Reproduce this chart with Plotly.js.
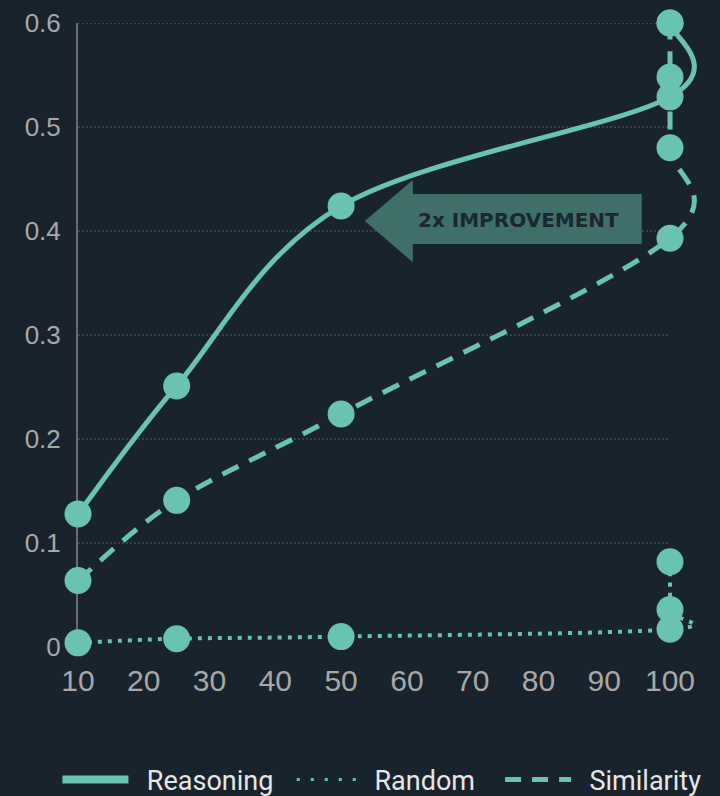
<!DOCTYPE html>
<html><head><meta charset="utf-8">
<script src="https://cdn.plot.ly/plotly-3.0.1.min.js"></script>
<style>html,body{margin:0;padding:0;background:#19232d;}</style>
</head><body><div id="chart" style="width:720px;height:796px;"></div>
<script>
// ---- data ----
const xTicks = [10,20,30,40,50,60,70,80,90,100];
const yTicks = [0,0.1,0.2,0.3,0.4,0.5,0.6];
const yTickText = ["0","0.1","0.2","0.3","0.4","0.5","0.6"];
const gridTicks = [0.1,0.2,0.3,0.4,0.5,0.6];

const reasoningX = [10,25,50,100,100];
const reasoningY = [0.128,0.251,0.424,0.529,0.6];
const randomX = [10,25,50,100,100,100];
const randomY = [0.004,0.008,0.010,0.017,0.036,0.082];
const similarityX = [10,25,50,100,100,100,100];
const similarityY = [0.064,0.141,0.224,0.393,0.480,0.548,0.600];

const seriesNames = ["Reasoning","Random","Similarity"];
const annotationText = "2x IMPROVEMENT";

// ---- style ----
const teal = "#68c4b0";
const bg = "#19232d";
const legendPads = [["\u00a0\u00a0", "\u00a0\u00a0"], ["\u00a0", "\u00a0\u00a0\u00a0"], ["\u00a0\u00a0", "\u00a0\u00a0"]];

// uniform Catmull-Rom (cardinal, tension 0) through the data points,
// expressed as a data-space Bezier path so Plotly's axes place it
function cardinalPath(xs, ys) {
  const n = xs.length;
  let d = "M" + xs[0] + "," + ys[0];
  for (let i = 0; i < n - 1; i++) {
    const i0 = Math.max(i - 1, 0), i3 = Math.min(i + 2, n - 1);
    const c1x = xs[i] + (xs[i + 1] - xs[i0]) / 6, c1y = ys[i] + (ys[i + 1] - ys[i0]) / 6;
    const c2x = xs[i + 1] - (xs[i3] - xs[i]) / 6, c2y = ys[i + 1] - (ys[i3] - ys[i]) / 6;
    d += " C" + c1x + "," + c1y + " " + c2x + "," + c2y + " " + xs[i + 1] + "," + ys[i + 1];
  }
  return d;
}
function lineShape(xs, ys, dash, width) {
  return {type: "path", xref: "x2", yref: "y2", layer: "between", path: cardinalPath(xs, ys),
    fillcolor: "rgba(0,0,0,0)", line: {color: teal, width: width, dash: dash}};
}
function markerTrace(x, y) {
  return {x: x, y: y, xaxis: "x2", yaxis: "y2", type: "scatter", mode: "markers",
    marker: {size: 27, color: teal}, cliponaxis: false, showlegend: false, hoverinfo: "skip"};
}
function legendTrace(i, dash, width) {
  return {x: [null], y: [null], xaxis: "x2", yaxis: "y2", type: "scatter", mode: "lines",
    name: legendPads[i][0] + seriesNames[i] + legendPads[i][1],
    line: {color: teal, width: width, dash: dash}, showlegend: true};
}

const traces = [
  {x: [], y: [], xaxis: "x", yaxis: "y", type: "scatter", showlegend: false},
  markerTrace(reasoningX, reasoningY),
  markerTrace(randomX, randomY),
  markerTrace(similarityX, similarityY),
  legendTrace(0, "solid", 8),
  legendTrace(1, "3px,11px", 3),
  legendTrace(2, "16px,11px", 5)
];

const tickFont = "Liberation Sans, Arial, sans-serif";
const layout = {
  width: 720, height: 796,
  paper_bgcolor: bg, plot_bgcolor: "rgba(0,0,0,0)",
  margin: {l: 78, r: 0, t: 23, b: 149, autoexpand: false},
  showlegend: true,
  // grid / label subplot (x = 10..100)
  xaxis: {range: [10, 100], domain: [0, 0.92212], anchor: "y", tickvals: xTicks, ticks: "",
    showgrid: false, zeroline: false, showline: false, ticklabelstandoff: 13,
    tickfont: {family: tickFont, size: 30, color: "#a8a8a8"}},
  yaxis: {range: [0, 0.6], domain: [0, 1], anchor: "x", tickvals: yTicks, ticktext: yTickText, ticks: "",
    showgrid: false, zeroline: false, showline: true, linecolor: "#6a6a6a", linewidth: 2,
    ticklabelstandoff: 10,
    tickfont: {family: tickFont, size: 26, color: "#a8a8a8"}},
  // data subplot, same scale, wider so the spline loops past 100 are visible
  xaxis2: {range: [10, 107.6], domain: [0, 1], anchor: "y2", visible: false},
  yaxis2: {range: [0, 0.6], domain: [0, 1], anchor: "x2", visible: false},
  shapes: [
    {type: "path", xref: "x2", yref: "y2", layer: "below",
      path: "M 53.6,0.4096 L 60.9,0.449 L 60.9,0.4356 L 95.7,0.4356 L 95.7,0.3875 L 60.9,0.3875 L 60.9,0.370 Z",
      fillcolor: "#3e7069", line: {width: 0}}
  ].concat(gridTicks.map(v => ({type: "line", xref: "x", yref: "y", layer: "below",
      x0: 10, x1: 100, y0: v, y1: v, line: {color: "#5a6066", width: 1, dash: "2px,2px"}})))
   .concat([
      lineShape(reasoningX, reasoningY, "solid", 5),
      lineShape(randomX, randomY, "4px,6px", 4),
      lineShape(similarityX, similarityY, "18px,12px", 5)
   ]),
  annotations: [{x: 76.9, y: 0.4105, xref: "x2", yref: "y2", text: annotationText, showarrow: false,
    font: {family: "DejaVu Sans, sans-serif", size: 20, weight: 700, color: "#1b2630"}}],
  legend: {orientation: "h", x: -0.032, xanchor: "left", y: -0.213, yanchor: "middle",
    itemwidth: 66, bgcolor: "rgba(0,0,0,0)",
    font: {family: "Roboto, sans-serif", size: 27, color: "#e6e6e6"}}
};

Plotly.newPlot("chart", traces, layout, {staticPlot: true, displayModeBar: false});
</script>
</body></html>
